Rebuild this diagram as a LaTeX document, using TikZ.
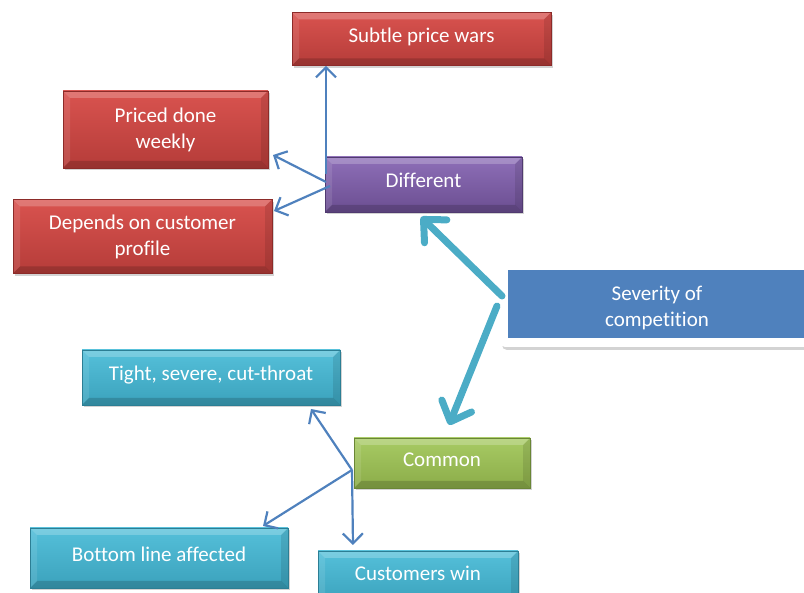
\documentclass[tikz,border=0pt]{standalone}
\usepackage{fontspec}
\setmainfont[Ligatures={NoCommon}]{Carlito}
\usetikzlibrary{arrows.meta,shadows}
\definecolor{redT}{HTML}{D9534F}
\definecolor{redB}{HTML}{B53C39}
\definecolor{redD}{HTML}{8C2B29}
\definecolor{purT}{HTML}{8E6FB8}
\definecolor{purB}{HTML}{6B4E91}
\definecolor{purD}{HTML}{503A70}
\definecolor{grnT}{HTML}{A8CB64}
\definecolor{grnB}{HTML}{8BAC49}
\definecolor{grnD}{HTML}{6A8636}
\definecolor{cyaT}{HTML}{55C0DA}
\definecolor{cyaB}{HTML}{3BA2BC}
\definecolor{cyaD}{HTML}{2C7E94}
\definecolor{sevBlue}{HTML}{4F81BD}
\definecolor{thinArr}{HTML}{4F81BD}
\definecolor{thickArr}{HTML}{4BACC6}
\tikzset{
  bevel/.style={path picture={
    \fill[white,opacity=0.22] (path picture bounding box.north west) -- (path picture bounding box.north east)
      -- ([xshift=-7pt,yshift=-7pt]path picture bounding box.north east) -- ([xshift=7pt,yshift=-7pt]path picture bounding box.north west) -- cycle;
    \fill[black,opacity=0.16] (path picture bounding box.south west) -- (path picture bounding box.south east)
      -- ([xshift=-7pt,yshift=7pt]path picture bounding box.south east) -- ([xshift=7pt,yshift=7pt]path picture bounding box.south west) -- cycle;
    \fill[white,opacity=0.10] (path picture bounding box.north west) -- ([xshift=7pt,yshift=-7pt]path picture bounding box.north west)
      -- ([xshift=7pt,yshift=7pt]path picture bounding box.south west) -- (path picture bounding box.south west) -- cycle;
    \fill[black,opacity=0.10] (path picture bounding box.north east) -- ([xshift=-7pt,yshift=-7pt]path picture bounding box.north east)
      -- ([xshift=-7pt,yshift=7pt]path picture bounding box.south east) -- (path picture bounding box.south east) -- cycle;
  }},
  box/.style={rectangle, text=white, align=center, inner sep=2pt,
    font=\fontsize{21}{26}\selectfont, line width=0.6pt, bevel,
    drop shadow={shadow xshift=2pt, shadow yshift=-2.5pt, opacity=0.35}},
  oneline/.style={text height=15pt, text depth=8pt},
  redbox/.style={box, top color=redT, bottom color=redB, draw=redD},
  purbox/.style={box, top color=purT, bottom color=purB, draw=purD},
  grnbox/.style={box, top color=grnT, bottom color=grnB, draw=grnD},
  cyabox/.style={box, top color=cyaT, bottom color=cyaB, draw=cyaD},
  thin arrow/.style={draw=thinArr, line width=2.2pt,
    -{Straight Barb[length=10pt,width=20pt,line width=2.2pt]}},
  thick arrow/.style={draw=thickArr, line width=7pt, line cap=round,
    -{Straight Barb[length=17pt,width=32pt,line width=7pt,round]}}
}
\begin{document}
\begin{tikzpicture}[x=1pt,y=-1pt]
\useasboundingbox (0,0) rectangle (804,593);
% boxes
\node[redbox, oneline, minimum width=259pt, minimum height=53pt] (subtle) at (421.5,39) {Subtle price wars};
\node[redbox, minimum width=205pt, minimum height=77pt] (priced) at (165.5,129.5) {Priced done\\weekly};
\node[purbox, oneline, minimum width=197pt, minimum height=55pt] (diff) at (423.5,184.5) {Different};
\node[redbox, minimum width=259pt, minimum height=74pt] (depends) at (142.5,236.5) {Depends on customer\\profile};
\node[rectangle, rounded corners=5pt, fill=white, minimum width=312pt, minimum height=85pt,
  drop shadow={shadow xshift=2pt, shadow yshift=-3pt, opacity=0.35}] (sevframe) at (656,304.5) {};
\node[rectangle, fill=sevBlue, minimum width=298pt, minimum height=68pt] (sev) at (657,304) {};
\node[text=white, align=center, font=\fontsize{21}{26}\selectfont] (sevtext) at (657,308) {Severity of\\competition};
\node[cyabox, oneline, minimum width=258pt, minimum height=55pt] (tight) at (211,377.5) {Tight, severe, cut-throat};
\node[grnbox, oneline, minimum width=176pt, minimum height=50pt] (common) at (442,463) {Common};
\node[cyabox, oneline, minimum width=258pt, minimum height=60pt] (bottom) at (159,558) {Bottom line affected};
\node[cyabox, oneline, minimum width=200pt, minimum height=52pt] (cust) at (418,577) {Customers win};
% connector origins
\coordinate (dA) at (326,174);
\coordinate (dB) at (326,182);
\coordinate (dC) at (330,186);
\coordinate (sA) at (502,296);
\coordinate (sB) at (497,306);
\coordinate (cO) at (352,470);
% thin arrows from Different
\draw[thin arrow] (dA) -- (subtle.south west -| dA);
\draw[thin arrow] (dB) -- (273,155) coordinate (pT);
\draw[thin arrow] (dC) -- (274,211) coordinate (dT);
% thick arrows from Severity
\draw[thick arrow] (sA) -- (421,217) coordinate (tA);
\draw[thick arrow] (sB) -- (449,425) coordinate (tB);
% thin arrows from Common
\draw[thin arrow] (cO) -- (311,409) coordinate (tT);
\draw[thin arrow] (cO) -- (263,526) coordinate (bT);
\draw[thin arrow] (cO) -- (353,545) coordinate (cT);
\end{tikzpicture}
\end{document}
